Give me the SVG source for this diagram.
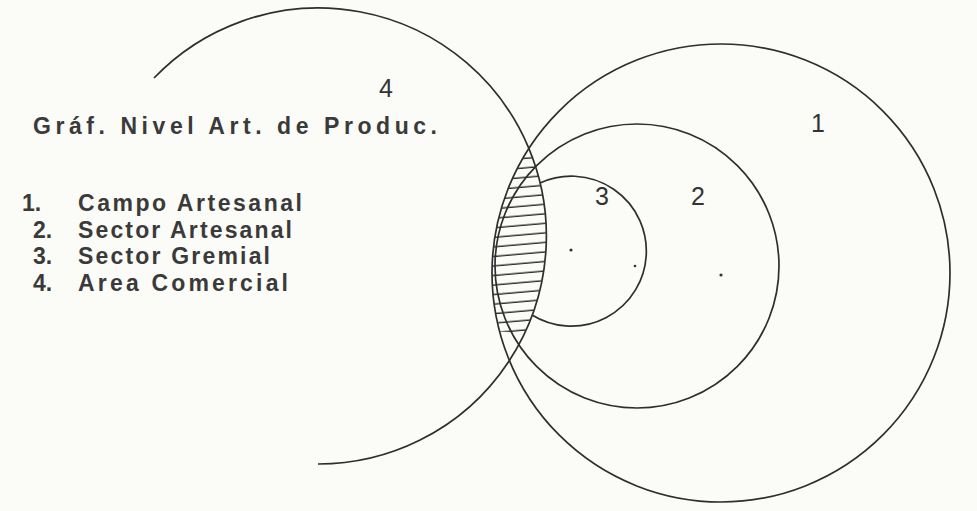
<svg xmlns="http://www.w3.org/2000/svg" width="977" height="511" viewBox="0 0 977 511">
  <style>
    .ln{fill:none;stroke:#2e2e2e;stroke-width:1.7}
    .t{font-family:"Liberation Sans",Arial,sans-serif;font-weight:bold;fill:#3a3a3a;font-size:23px}
    .n{font-family:"Liberation Sans",sans-serif;fill:#333;font-size:25px;text-anchor:middle}
    .dot{fill:#333}
  </style>
  <defs>
    <pattern id="hatch" width="40" height="9.5" patternUnits="userSpaceOnUse" patternTransform="rotate(-5)">
      <line x1="0" y1="4" x2="40" y2="4" stroke="#2e2e2e" stroke-width="1.4"/>
    </pattern>
    <clipPath id="c1"><circle cx="721" cy="273" r="229"/></clipPath>
    <clipPath id="c4"><circle cx="318" cy="236" r="228"/></clipPath>
  </defs>
  <rect width="977" height="511" fill="#fbfbf8"/>

  <g id="hatched-area" clip-path="url(#c1)">
    <g clip-path="url(#c4)">
      <rect x="480" y="150" width="80" height="182" fill="url(#hatch)"/>
    </g>
  </g>

  <g id="circles">
    <g id="circle-1"><circle class="ln" cx="721" cy="273" r="229"/></g>
    <g id="circle-2"><circle class="ln" cx="637" cy="266" r="142"/></g>
    <g id="circle-3"><path class="ln" d="M540,183 A75,75 0 1 1 532,315"/></g>
    <g id="circle-4"><path class="ln" d="M154,78 A228,228 0 1 1 318,464"/></g>
  </g>

  <g id="centers">
    <circle class="dot" cx="571" cy="250" r="1.6"/>
    <circle class="dot" cx="635" cy="266" r="1.3"/>
    <circle class="dot" cx="721" cy="275" r="1.6"/>
  </g>

  <g id="numbers">
    <text class="n" x="386" y="97">4</text>
    <text class="n" x="818" y="132">1</text>
    <text class="n" x="698" y="205">2</text>
    <text class="n" x="602" y="205">3</text>
  </g>

  <g id="legend">
    <text class="t" x="33" y="134" font-size="26.5" textLength="404" lengthAdjust="spacing">Gráf. Nivel Art. de Produc.</text>
    <text class="t" x="22" y="211">1.</text>
    <text class="t" x="78" y="211" textLength="224" lengthAdjust="spacing">Campo Artesanal</text>
    <text class="t" x="33" y="237.5">2.</text>
    <text class="t" x="78" y="237.5" textLength="214" lengthAdjust="spacing">Sector Artesanal</text>
    <text class="t" x="33" y="264">3.</text>
    <text class="t" x="78" y="264" textLength="192" lengthAdjust="spacing">Sector Gremial</text>
    <text class="t" x="33" y="290.5">4.</text>
    <text class="t" x="78" y="290.5" textLength="210" lengthAdjust="spacing">Area Comercial</text>
  </g>
</svg>
